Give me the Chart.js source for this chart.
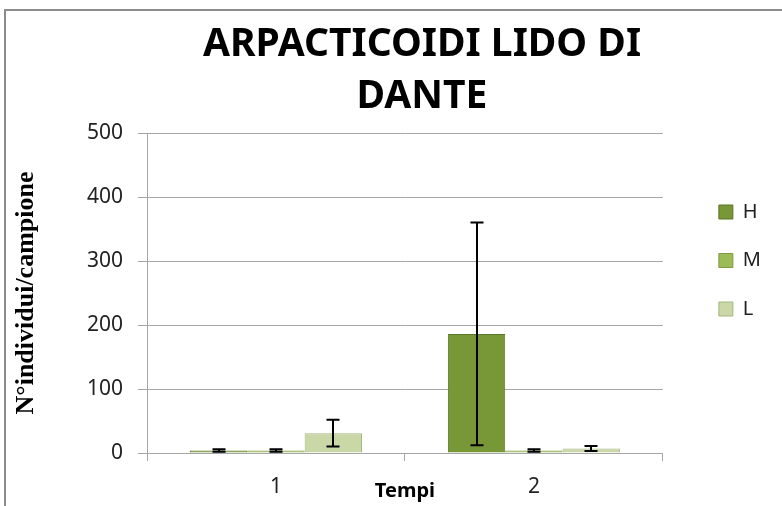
<!DOCTYPE html>
<html>
<head>
<meta charset="utf-8">
<script src="https://cdn.jsdelivr.net/npm/chart.js@4.4.1/dist/chart.umd.min.js"></script>
<style>
  body { margin: 0; background: #fff; overflow: hidden; }
  #frame { position: absolute; left: 4px; top: 9px; width: 900px; height: 600px; border: 2px solid #8c8c8c; }
  #chart { position: absolute; left: 0; top: 0; }
</style>
</head>
<body>
<div id="frame"></div>
<canvas id="chart" width="782" height="506"></canvas>
<script>
const categories = ['1', '2'];
const seriesNames = ['H', 'M', 'L'];
const valuesH = [4, 186];
const errH = [2, 174];
const valuesM = [4, 4];
const errM = [2, 2];
const valuesL = [31, 7];
const errL = [21, 4];
const yTicks = [0, 100, 200, 300, 400, 500];

const errors = [errH, errM, errL];
const gridColor = '#a6a6a6';
const padLeft = 73;

// error bars drawn over the bars, from the library's own bar positions
const errorBars = {
    id: 'errorBars',
    afterDatasetsDraw(chart) {
        const ctx = chart.ctx;
        const y = chart.scales.y;
        ctx.save();
        ctx.strokeStyle = '#000';
        ctx.lineWidth = 2;
        chart.data.datasets.forEach((ds, i) => {
            const meta = chart.getDatasetMeta(i);
            meta.data.forEach((bar, j) => {
                const v = ds.data[j];
                const e = errors[i][j];
                const top = y.getPixelForValue(v + e);
                const bot = y.getPixelForValue(Math.max(v - e, 0));
                const x = Math.round(bar.x);
                ctx.beginPath();
                ctx.moveTo(x, top); ctx.lineTo(x, bot);
                ctx.moveTo(x - 6.5, top); ctx.lineTo(x + 6.5, top);
                ctx.moveTo(x - 6.5, bot); ctx.lineTo(x + 6.5, bot);
                ctx.stroke();
            });
        });
        ctx.restore();
    }
};

new Chart(document.getElementById('chart'), {
    type: 'bar',
    data: {
        labels: categories,
        datasets: [
            { label: seriesNames[0], data: valuesH, backgroundColor: '#789838', borderColor: '#5a7626', borderWidth: 1 },
            { label: seriesNames[1], data: valuesM, backgroundColor: '#9bbb59', borderColor: '#7f9c40', borderWidth: 1 },
            { label: seriesNames[2], data: valuesL, backgroundColor: '#c9d8a6', borderColor: '#a3b77f', borderWidth: 1 }
        ]
    },
    options: {
        responsive: false,
        animation: false,
        devicePixelRatio: 1,
        categoryPercentage: 0.667,
        barPercentage: 1.0,
        layout: { padding: { top: 15, right: 11, bottom: 0, left: padLeft } },
        plugins: {
            tooltip: { enabled: false },
            title: {
                display: true,
                text: ['ARPACTICOIDI LIDO DI', 'DANTE'],
                color: '#000',
                font: { family: 'Noto Sans', size: 39, weight: 'bold', lineHeight: '52px' },
                padding: { top: 4, bottom: 10 }
            },
            legend: {
                position: 'right',
                align: 'center',
                labels: {
                    color: '#222',
                    font: { family: 'Noto Sans', size: 20 },
                    boxWidth: 14,
                    boxHeight: 14,
                    padding: 28.5
                }
            }
        },
        scales: {
            x: {
                grid: { offset: true, drawOnChartArea: false, tickLength: 8, color: gridColor },
                border: { color: gridColor },
                ticks: { color: '#222', font: { family: 'Noto Sans', size: 21 }, padding: 13 },
                title: {
                    display: true,
                    text: 'Tempi',
                    color: '#000',
                    font: { family: 'Noto Sans', size: 20, weight: 'bold' },
                    padding: { top: 0, bottom: 3 }
                },
                afterFit(scale) { scale.height = 53; }
            },
            y: {
                min: yTicks[0],
                max: yTicks[yTicks.length - 1],
                afterBuildTicks(scale) { scale.ticks = yTicks.map(v => ({ value: v })); },
                grid: { color: gridColor, tickLength: 9 },
                border: { color: gridColor },
                ticks: { color: '#222', font: { family: 'Noto Sans', size: 21 }, padding: 15 },
                title: {
                    display: true,
                    text: 'N°individui/campione',
                    color: '#000',
                    font: { family: 'Liberation Serif', size: 26, weight: 'bold' },
                    padding: { top: 11 - padLeft, bottom: 0 }
                },
                afterFit(scale) { scale.width = 147 - padLeft; }
            },
            gap: {
                type: 'linear',
                position: 'right',
                grid: { display: false, drawTicks: false },
                border: { display: false },
                ticks: { display: false },
                afterFit(scale) { scale.width = 27.5; }
            }
        }
    },
    plugins: [errorBars]
});
</script>
</body>
</html>
